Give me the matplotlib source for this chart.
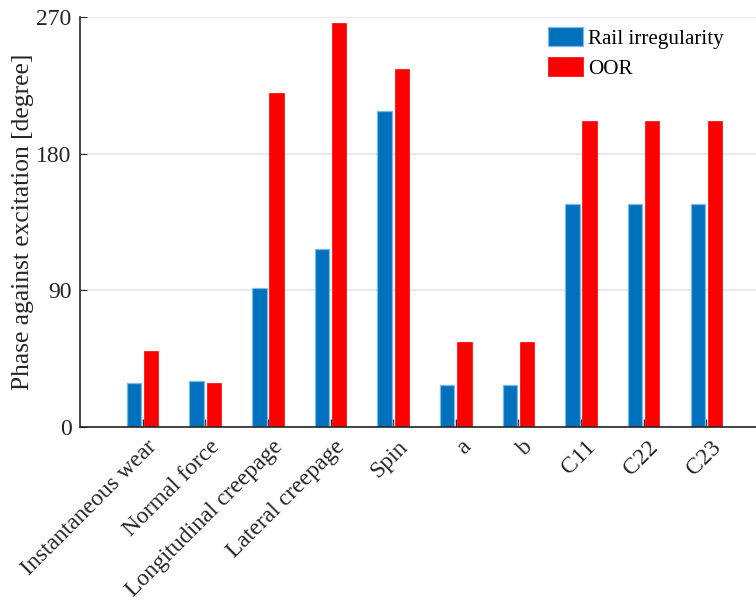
import matplotlib
matplotlib.use("Agg")
import matplotlib.pyplot as plt
import matplotlib.transforms as mtransforms
import numpy as np

categories = ["Instantaneous wear", "Normal force", "Longitudinal creepage",
              "Lateral creepage", "Spin", "a", "b", "C11", "C22", "C23"]
rail_irregularity = [29.2, 30.5, 91.8, 117.5, 207.9, 27.8, 27.8, 146.6, 146.6, 146.6]
oor = [49.8, 28.7, 220.0, 266.2, 235.8, 55.7, 55.7, 201.5, 201.5, 201.5]
series_names = ["Rail irregularity", "OOR"]
y_ticks = [0, 90, 180, 270]

plt.rcParams["font.family"] = ["Liberation Serif", "DejaVu Serif"]

fig = plt.figure(figsize=(7.56, 6.0), dpi=100)
ax = fig.add_axes([80 / 756, 1 - 427 / 600, 11 * 62.63 / 756, 410 / 600])

x = np.arange(1, len(categories) + 1)
offset = 0.137
width = 0.23
blue = "#0072BD"
red = "#FF0000"

ax.bar(x - offset, rail_irregularity, width, color=blue,
       edgecolor="#7FB8E6", linewidth=0.9, label=series_names[0], zorder=3)
ax.bar(x + offset, oor, width, color=red, edgecolor=red,
       linewidth=0.5, label=series_names[1], zorder=3)

ax.set_xlim(0, 11)
ax.set_ylim(0, 270)
ax.set_yticks(y_ticks)
ax.set_xticks(x)
ax.set_xticklabels(categories, rotation=45, ha="right", va="center",
                   rotation_mode="anchor")

ax.grid(axis="y", color="#e3e3e3", linewidth=1.1, zorder=0)
ax.set_axisbelow(True)

for side in ("top", "right"):
    ax.spines[side].set_visible(False)
for side in ("left", "bottom"):
    ax.spines[side].set_color("#262626")
    ax.spines[side].set_linewidth(1.2)
    ax.spines[side].set_zorder(4)

ax.tick_params(axis="x", direction="in", length=6, width=1.0, color="#262626",
               labelsize=17, labelcolor="#262626", pad=12.3)
ax.tick_params(axis="y", direction="in", length=5, width=0.8, color="#262626",
               labelsize=17, labelcolor="#262626", pad=6)

shift = mtransforms.ScaledTranslation(8.2 / 72, 0, fig.dpi_scale_trans)
for lbl in ax.get_xticklabels():
    lbl.set_transform(lbl.get_transform() + shift)

ax.set_ylabel("Phase against excitation [degree]", fontsize=18.4,
              color="#262626", labelpad=2)

leg = ax.legend(loc="upper left", bbox_to_anchor=(548 / 756, 1 - 27 / 600),
                bbox_transform=fig.transFigure, frameon=False, fontsize=15.2,
                handlelength=1.68, handleheight=1.0, handletextpad=0.2,
                labelspacing=0.4, borderaxespad=0, borderpad=0)

fig.savefig("out.png", dpi=100)
